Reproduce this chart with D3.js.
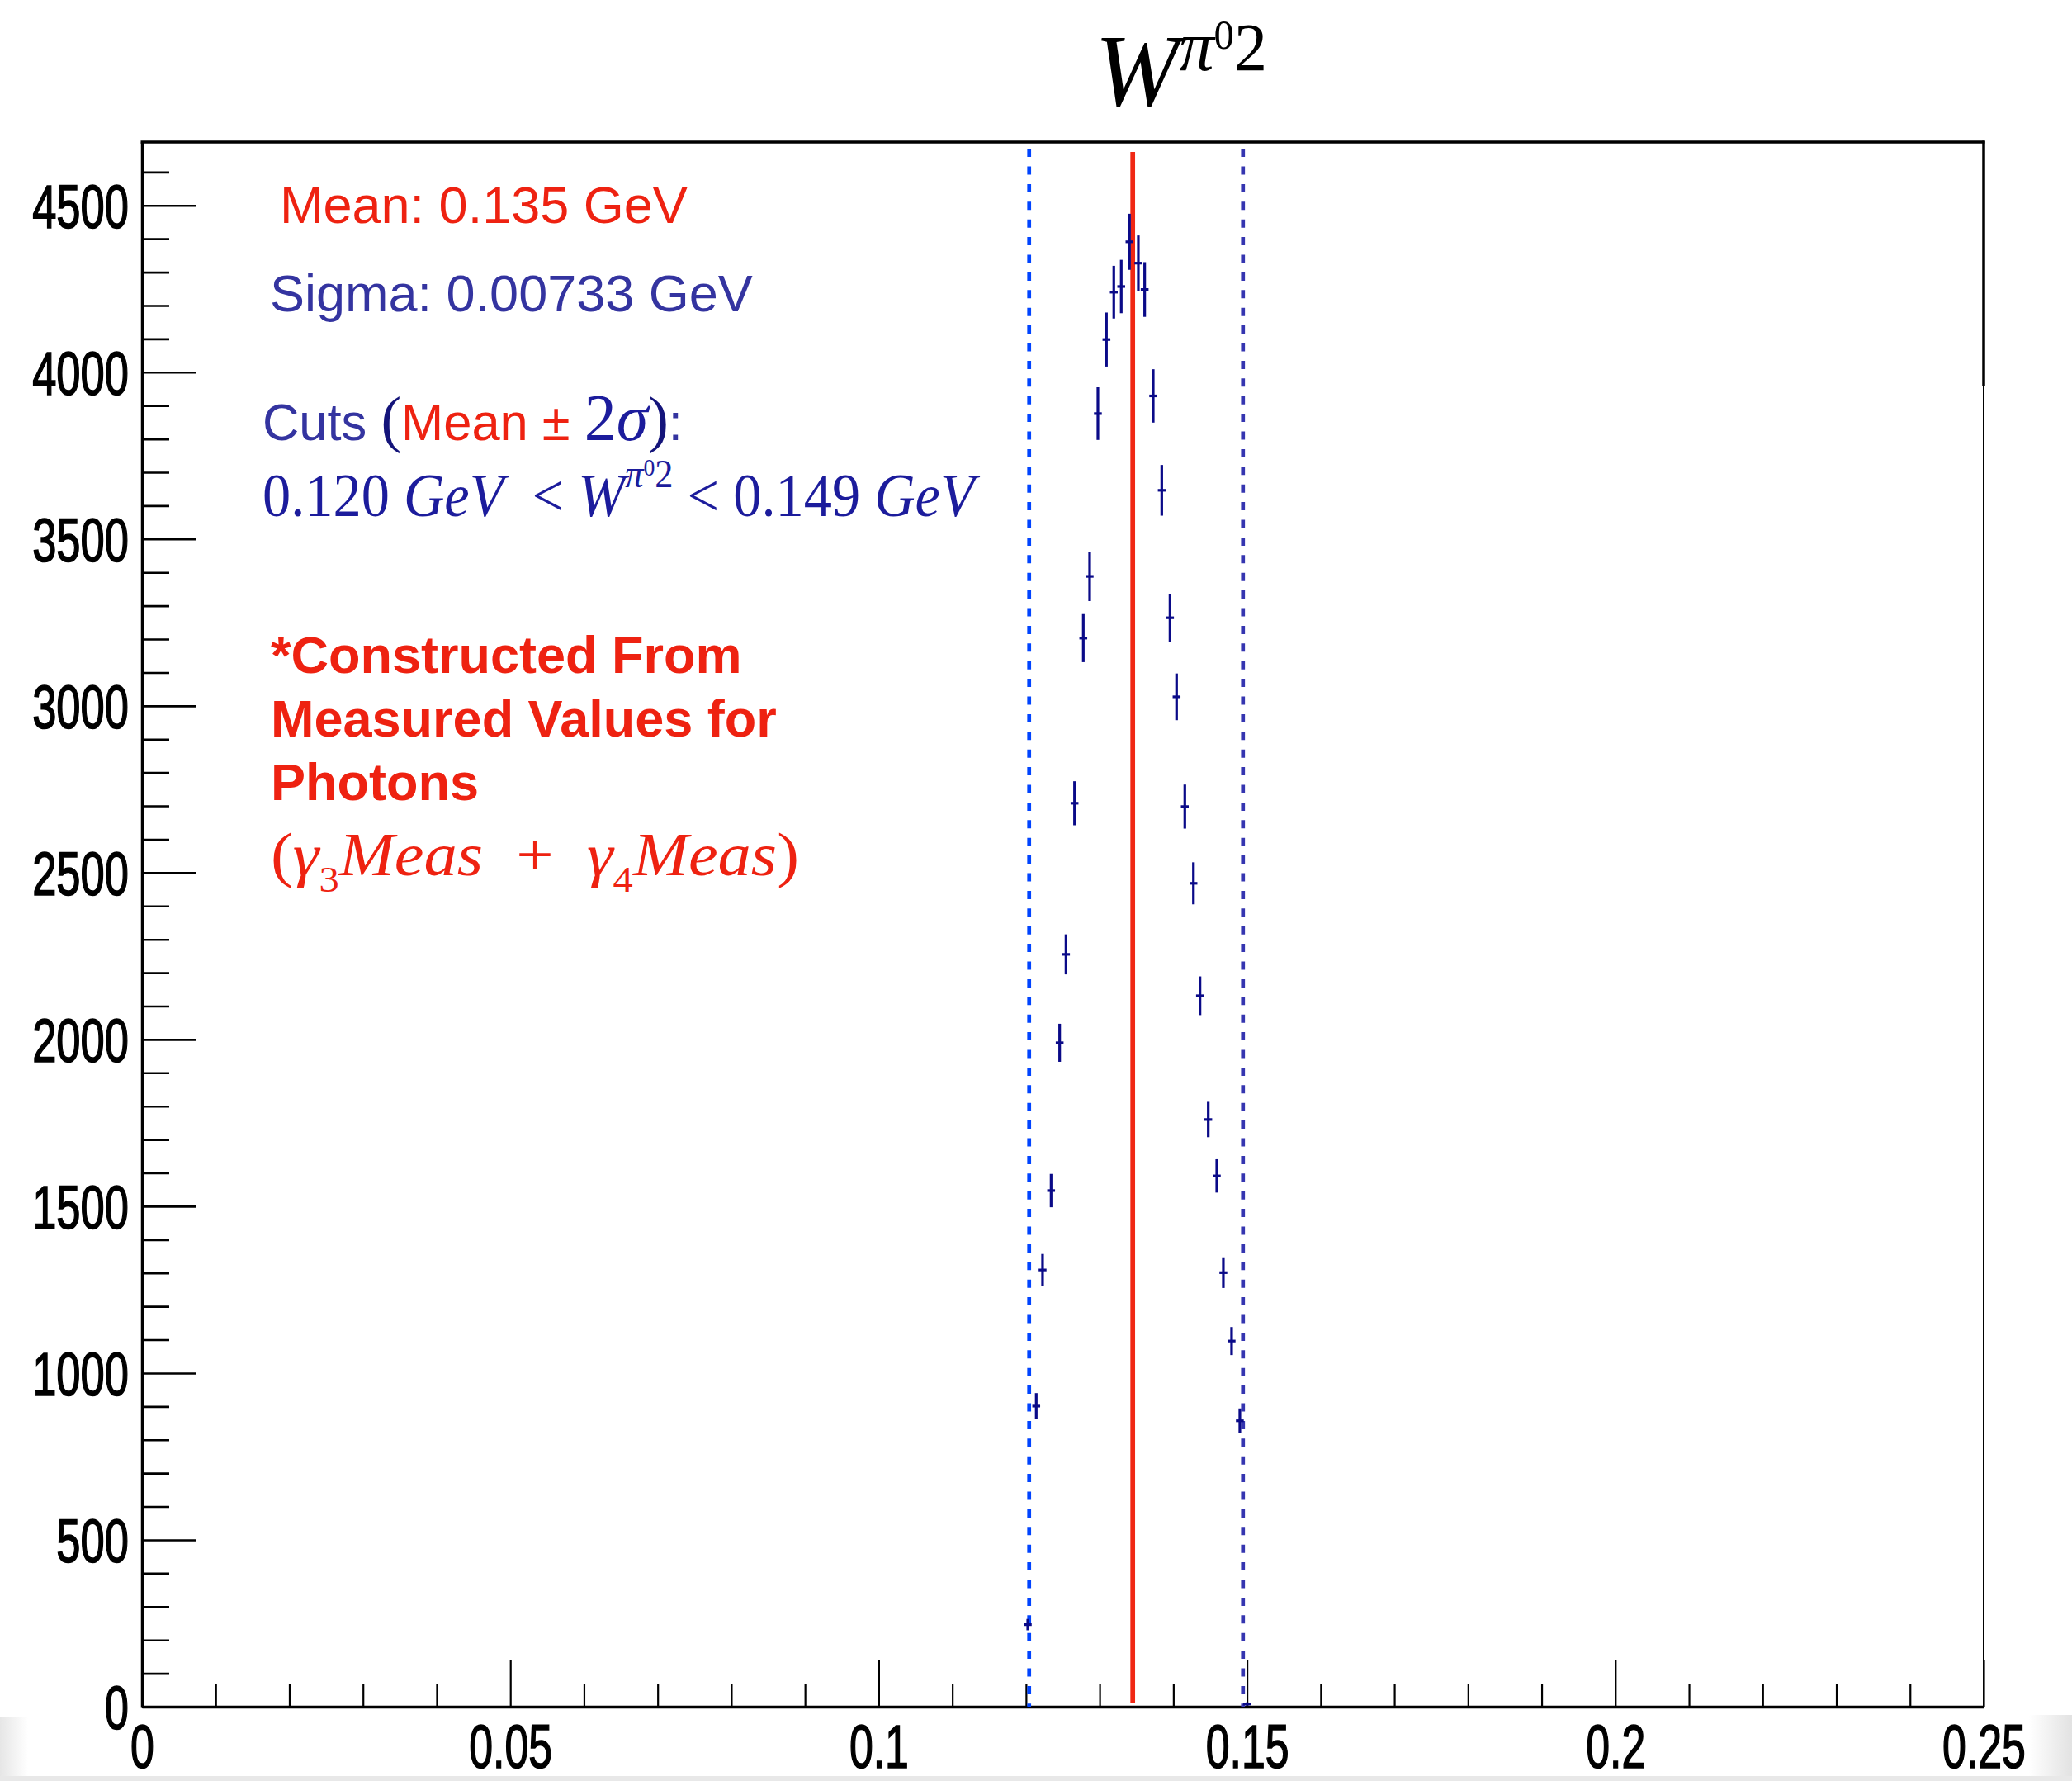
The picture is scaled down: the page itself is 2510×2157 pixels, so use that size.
<!DOCTYPE html>
<html><head><meta charset="utf-8">
<script src="https://cdn.jsdelivr.net/npm/d3@7"></script>
<style>body{margin:0;background:#fff} svg{display:block} text{white-space:pre}</style>
</head><body>
<svg id="c" width="2510" height="2157"></svg>
<script>
// ---------- data ----------
const binCenters = [0.12024,0.12139,0.12225,0.12341,0.12457,0.12543,0.12659,0.12778,0.12864,0.12976,
  0.13092,0.13192,0.13293,0.13405,0.13525,0.13611,0.13727,0.13843,0.13955,0.14044,
  0.14156,0.14273,0.14362,0.14474,0.14590,0.14679,0.14791,0.14903,0.15001];
const counts = [246,901,1309,1547,1990,2255,2708,3203,3388,3876,
  4098,4240,4257,4391,4327,4248,3929,3646,3264,3027,
  2698,2468,2131,1760,1591,1301,1096,857,8];
const errors = [17,39,48,50,57,60,66,72,74,79,
  81,79,80,84,83,82,80,76,72,70,
  66,63,58,53,50,46,42,37,5];
const binHalfWidth = 0.000532;
const xTickValues = [0,0.05,0.1,0.15,0.2,0.25];
const xTickLabels = ["0","0.05","0.1","0.15","0.2","0.25"];
const xMinorTicks = [0.01,0.02,0.03,0.04,0.06,0.07,0.08,0.09,0.11,0.12,0.13,0.14,0.16,0.17,0.18,0.19,0.21,0.22,0.23,0.24];
const yTickValues = [0,500,1000,1500,2000,2500,3000,3500,4000,4500];
const yTickLabels = ["0","500","1000","1500","2000","2500","3000","3500","4000","4500"];
const yMinorTicks = [100,200,300,400,600,700,800,900,1100,1200,1300,1400,1600,1700,1800,1900,2100,2200,2300,2400,
  2600,2700,2800,2900,3100,3200,3300,3400,3600,3700,3800,3900,4100,4200,4300,4400,4600];
const meanValue = 0.13449;
const cutLow = 0.12043;
const cutHigh = 0.14946;
const xDomain = [0, 0.25];
const yDomain = [0, 4690];

// ---------- layout ----------
const L = 172, R = 2403, T = 172, B = 2067;
const svg = d3.select('#c');
svg.append('rect').attr('width',2510).attr('height',2157).attr('fill','#fff');

const x = d3.scaleLinear().domain(xDomain).range([L, R]);
const y = d3.scaleLinear().domain(yDomain).range([B, T]);

const SANS = '"Liberation Sans", Arial, Helvetica, sans-serif';
const SERIF = '"Liberation Serif", "Times New Roman", serif';
const RED = '#ee2211';
const BLUE_TXT = '#3434a0';
const BLUE_MATH = '#1c1c9c';
const NAVY = '#0a0a88';

// shadow at bottom corners (screenshot edge)
const defs = svg.append('defs');
const gr = defs.append('linearGradient').attr('id','shR').attr('x1','0').attr('x2','1').attr('y1','0').attr('y2','0');
gr.append('stop').attr('offset','0').attr('stop-color','#ffffff');
gr.append('stop').attr('offset','1').attr('stop-color','#e2e2e2');
const gl = defs.append('linearGradient').attr('id','shL').attr('x1','1').attr('x2','0').attr('y1','0').attr('y2','0');
gl.append('stop').attr('offset','0').attr('stop-color','#ffffff');
gl.append('stop').attr('offset','1').attr('stop-color','#e6e6e6');
svg.append('rect').attr('x',2458).attr('y',2077).attr('width',52).attr('height',80).attr('fill','url(#shR)');
svg.append('rect').attr('x',0).attr('y',2080).attr('width',34).attr('height',77).attr('fill','url(#shL)');
svg.append('rect').attr('x',0).attr('y',2151).attr('width',2510).attr('height',6).attr('fill','#e8e8e8');

// ---------- axes ----------
const gxMinor = svg.append('g').attr('transform',`translate(0,${B})`)
  .call(d3.axisBottom(x).tickValues(xMinorTicks).tickSize(-27).tickSizeOuter(0).tickFormat(''));
gxMinor.select('.domain').remove();
gxMinor.selectAll('line').attr('stroke','#000').attr('stroke-width',2.2);

const gx = svg.append('g').attr('transform',`translate(0,${B})`)
  .call(d3.axisBottom(x).tickValues(xTickValues).tickSize(-56).tickSizeOuter(0).tickFormat((d,i)=>xTickLabels[i]));
gx.select('.domain').attr('stroke','#000').attr('stroke-width',3.5);
gx.selectAll('line').attr('stroke','#000').attr('stroke-width',2.2);
gx.selectAll('text').attr('x',0).attr('y',0).attr('dy',null)
  .attr('font-family',SANS).attr('font-size',72).attr('fill','#000').attr('text-anchor','middle')
  .attr('stroke','#000').attr('stroke-width',1.6)
  .attr('transform','translate(0,74) scale(0.72,1.02)');

const gyMinor = svg.append('g').attr('transform',`translate(${L},0)`)
  .call(d3.axisLeft(y).tickValues(yMinorTicks).tickSize(-33).tickSizeOuter(0).tickFormat(''));
gyMinor.select('.domain').remove();
gyMinor.selectAll('line').attr('stroke','#000').attr('stroke-width',2.6);

const gy = svg.append('g').attr('transform',`translate(${L},0)`)
  .call(d3.axisLeft(y).tickValues(yTickValues).tickSize(-66).tickSizeOuter(0).tickFormat((d,i)=>yTickLabels[i]));
gy.select('.domain').attr('stroke','#000').attr('stroke-width',3.5);
gy.selectAll('line').attr('stroke','#000').attr('stroke-width',2.6);
gy.selectAll('text').attr('x',0).attr('y',0).attr('dy',null)
  .attr('font-family',SANS).attr('font-size',74).attr('fill','#000').attr('text-anchor','end')
  .attr('stroke','#000').attr('stroke-width',1.6)
  .attr('transform','translate(-16,26.5) scale(0.71,1)');

// top and right frame
svg.append('line').attr('x1',L-1.5).attr('x2',R+1.5).attr('y1',T).attr('y2',T).attr('stroke','#000').attr('stroke-width',3.5);
svg.append('line').attr('x1',R).attr('x2',R).attr('y1',T-1.5).attr('y2',468).attr('stroke','#000').attr('stroke-width',3.5);
svg.append('line').attr('x1',R).attr('x2',R).attr('y1',468).attr('y2',B).attr('stroke','#000').attr('stroke-width',2);

// ---------- cut / mean lines ----------
const vlines = [
  {v: cutLow, y0: 0, y1: 4670, color: '#0044ff', w: 4.7, dash: '10 11.4'},
  {v: cutHigh, y0: 0, y1: 4670, color: '#3535b0', w: 4.7, dash: '10 11.4'},
  {v: meanValue, y0: 12, y1: 4660, color: '#f02814', w: 5.7, dash: null}
];
svg.append('g').selectAll('line').data(vlines).join('line')
  .attr('x1',d=>x(d.v)).attr('x2',d=>x(d.v))
  .attr('y1',d=>y(d.y1)).attr('y2',d=>y(d.y0))
  .attr('stroke',d=>d.color).attr('stroke-width',d=>d.w)
  .attr('stroke-dasharray',d=>d.dash);

// ---------- data points with error bars ----------
const pts = binCenters.map((c,i)=>({c, v: counts[i], e: errors[i]}));
const gp = svg.append('g').attr('stroke',NAVY).attr('stroke-width',3.2);
gp.selectAll('line.v').data(pts).join('line').attr('class','v')
  .attr('x1',d=>x(d.c)).attr('x2',d=>x(d.c))
  .attr('y1',d=>y(d.v+d.e)).attr('y2',d=>y(Math.max(0,d.v-d.e)));
gp.selectAll('line.h').data(pts).join('line').attr('class','h')
  .attr('x1',d=>x(d.c-binHalfWidth)).attr('x2',d=>x(d.c+binHalfWidth))
  .attr('y1',d=>y(d.v)).attr('y2',d=>y(d.v));

// ---------- texts ----------
function fitText(t, x0, targetW){
  const bb = t.node().getBBox();
  const s = targetW / bb.width;
  t.attr('transform',`translate(${x0},0) scale(${s},1) translate(${-bb.x},0)`);
}

// Title
const title = svg.append('text').attr('x',0).attr('y',128).attr('font-family',SERIF).attr('font-size',126).attr('fill','#000');
title.append('tspan').attr('font-style','italic').text('W');
title.append('tspan').attr('font-style','italic').attr('font-size',86).attr('dy',-43).text('π');
title.append('tspan').attr('font-size',50).attr('dy',-26).text('0');
title.append('tspan').attr('font-size',82).attr('dy',26).text('2');
fitText(title, 1326, 209);

svg.append('text').attr('x',339).attr('y',270).attr('font-family',SANS).attr('font-size',63).attr('fill',RED).text('Mean: 0.135 GeV');
svg.append('text').attr('x',327).attr('y',377).attr('font-family',SANS).attr('font-size',63).attr('fill',BLUE_TXT).text('Sigma: 0.00733 GeV');

const cuts = svg.append('text').attr('x',0).attr('y',533).attr('font-family',SANS).attr('font-size',63);
cuts.append('tspan').attr('fill',BLUE_TXT).text('Cuts ');
cuts.append('tspan').attr('fill','#14147a').attr('font-family',SERIF).attr('font-size',76).text('(');
cuts.append('tspan').attr('fill',RED).text('Mean ± ');
cuts.append('tspan').attr('fill',BLUE_MATH).attr('font-family',SERIF).attr('font-size',80).text('2');
cuts.append('tspan').attr('fill',BLUE_MATH).attr('font-family',SERIF).attr('font-size',80).attr('font-style','italic').text('σ');
cuts.append('tspan').attr('fill','#14147a').attr('font-family',SERIF).attr('font-size',76).text(')');
cuts.append('tspan').attr('fill',BLUE_TXT).text(':');
fitText(cuts, 318, 509);

const range = svg.append('text').attr('x',0).attr('y',625).attr('font-family',SERIF).attr('font-size',74).attr('fill',BLUE_MATH);
range.append('tspan').text('0.120 ');
range.append('tspan').attr('font-style','italic').text('GeV');
range.append('tspan').text('  < ');
range.append('tspan').attr('font-style','italic').text('W');
range.append('tspan').attr('font-style','italic').attr('font-size',48).attr('dy',-35).text('π');
range.append('tspan').attr('font-size',30).attr('dy',-14).text('0');
range.append('tspan').attr('font-size',48).attr('dy',14).text('2');
range.append('tspan').attr('dy',35).text(' < 0.149 ');
range.append('tspan').attr('font-style','italic').text('GeV');
fitText(range, 318, 870);

['*Constructed From','Measured Values for','Photons'].forEach((s,i)=>{
  svg.append('text').attr('x',328).attr('y',815+77*i).attr('font-family',SANS).attr('font-weight','bold')
    .attr('font-size',63).attr('fill',RED).text(s);
});

const meas = svg.append('text').attr('x',0).attr('y',1060).attr('font-family',SERIF).attr('font-size',73).attr('fill',RED);
meas.append('tspan').text('(');
meas.append('tspan').attr('font-style','italic').text('γ');
meas.append('tspan').attr('font-size',44).attr('dy',20).text('3');
meas.append('tspan').attr('font-style','italic').attr('dy',-20).text('Meas');
meas.append('tspan').text('  +  ');
meas.append('tspan').attr('font-style','italic').text('γ');
meas.append('tspan').attr('font-size',44).attr('dy',20).text('4');
meas.append('tspan').attr('font-style','italic').attr('dy',-20).text('Meas');
meas.append('tspan').text(')');
fitText(meas, 328, 640);
</script>
</body></html>
